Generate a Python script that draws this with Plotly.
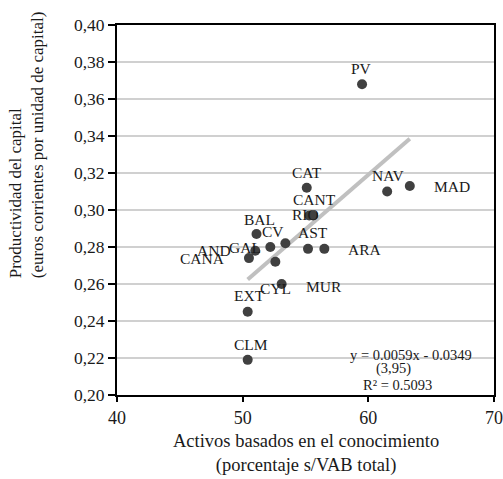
import plotly.graph_objects as go

# Regional data: knowledge-based assets (% of GVA) vs. capital productivity
regions = ["PV", "CAT", "NAV", "MAD", "CANT", "RIO", "BAL", "CV", "GAL",
           "AST", "ARA", "AND", "CANA", "CYL", "MUR", "EXT", "CLM"]
activos = [59.5, 55.1, 61.5, 63.3, 55.6, 55.3, 51.1, 52.2, 53.4,
           55.2, 56.5, 51.0, 50.5, 52.6, 53.1, 50.4, 50.4]
productividad = [0.368, 0.312, 0.310, 0.313, 0.297, 0.297, 0.287, 0.280, 0.282,
                 0.279, 0.279, 0.278, 0.274, 0.272, 0.260, 0.245, 0.219]

# Linear trend reported on the chart
slope, intercept = 0.0059, -0.0349
eq_lines = ["y = 0.0059x - 0.0349", "(3,95)", "R² = 0.5093"]

x_ticks = [40, 50, 60, 70]
y_ticks = [0.20, 0.22, 0.24, 0.26, 0.28, 0.30, 0.32, 0.34, 0.36, 0.38, 0.40]

FONT = "Liberation Serif"
INK = "#1a1a1a"

fig = go.Figure()

x0, x1 = min(activos), max(activos)
fig.add_trace(go.Scatter(
    x=[x0, x1], y=[slope * x0 + intercept, slope * x1 + intercept],
    mode="lines", line=dict(color="#c0c0c0", width=4),
    hoverinfo="skip", showlegend=False))

fig.add_trace(go.Scatter(
    x=activos, y=productividad, mode="markers",
    marker=dict(color="#404040", size=10),
    showlegend=False))

# label placement per region: (xanchor, xshift, yshift)
label_pos = {
    "PV": ("center", -1, 16), "CAT": ("center", 0, 15), "NAV": ("center", 1, 16),
    "MAD": ("left", 22, -1), "CANT": ("center", 1, 16), "RIO": ("center", -4, 1),
    "BAL": ("center", 3, 15), "CV": ("center", 3, 16), "GAL": ("right", -22, -4),
    "AST": ("center", 5, 16), "ARA": ("left", 22, -1), "AND": ("right", -22, 0),
    "CANA": ("right", -22, 0), "CYL": ("center", 0, -27), "MUR": ("left", 22, -2),
    "EXT": ("center", 2, 16), "CLM": ("center", 3, 15),
}
for name, xv, yv in zip(regions, activos, productividad):
    anchor, dx, dy = label_pos[name]
    fig.add_annotation(x=xv, y=yv, text=name, showarrow=False,
                       xanchor=anchor, yanchor="middle", xshift=dx, yshift=dy,
                       font=dict(family=FONT, size=15.5, color=INK))

eq_pos = [(63.4, 0.2216), (62.0, 0.2141), (62.35, 0.2054)]
for txt, (ex, ey) in zip(eq_lines, eq_pos):
    fig.add_annotation(x=ex, y=ey, text=txt, showarrow=False,
                       font=dict(family=FONT, size=14.5, color=INK))

# axis titles
fig.add_annotation(xref="paper", yref="paper", x=0.5, y=0, yshift=-34,
                   text="Activos basados en el conocimiento<br>(porcentaje s/VAB total)",
                   showarrow=False, yanchor="top", xanchor="center",
                   font=dict(family=FONT, size=18.5, color=INK))
fig.add_annotation(xref="paper", yref="paper", x=0, xshift=-91, y=0.675,
                   text="Productividad del capital<br>(euros corrientes por unidad de capital)",
                   showarrow=False, textangle=-90, align="left",
                   xanchor="center", yanchor="middle",
                   font=dict(family=FONT, size=17, color=INK))

fig.update_layout(
    width=503, height=479,
    margin=dict(l=117, r=9, t=25, b=84, autoexpand=False),
    paper_bgcolor="white", plot_bgcolor="white",
    separators=",.",
    showlegend=False,
    font=dict(family=FONT, size=17, color=INK),
)
fig.update_xaxes(range=[40, 70], tickvals=x_ticks, showgrid=False, zeroline=False,
                 automargin=False,
                 showline=True, linecolor="black", linewidth=2, mirror=True,
                 ticks="outside", ticklen=5, tickwidth=1.5, tickcolor="black",
                 tickfont=dict(family=FONT, size=18, color=INK))
fig.update_yaxes(range=[0.20, 0.40], tickvals=y_ticks, tickformat=".2f",
                 automargin=False,
                 showgrid=True, gridcolor="#d0d0d0", gridwidth=1.5, zeroline=False,
                 showline=True, linecolor="black", linewidth=2, mirror=True,
                 ticks="outside", ticklen=7, tickwidth=1.5, tickcolor="black",
                 tickfont=dict(family=FONT, size=17.5, color=INK))

fig.write_html("out.html")
